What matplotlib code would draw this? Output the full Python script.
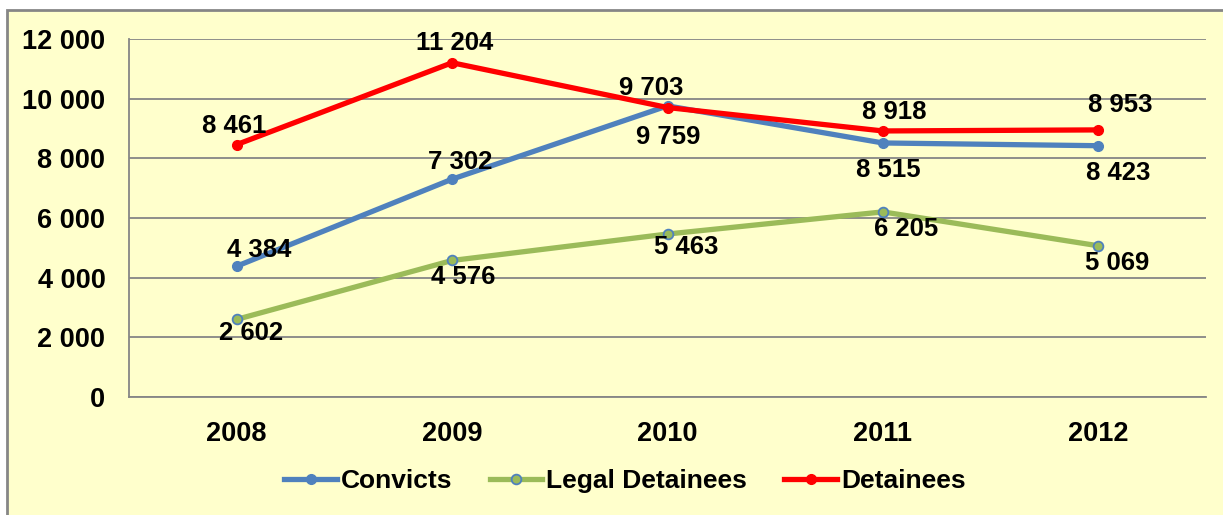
import numpy as np
import matplotlib
matplotlib.use('Agg')
import matplotlib.pyplot as plt
from matplotlib.patches import Rectangle
from matplotlib.ticker import FuncFormatter

years = ['2008', '2009', '2010', '2011', '2012']
convicts = [4384, 7302, 9759, 8515, 8423]
legal = [2602, 4576, 5463, 6205, 5069]
detainees = [8461, 11204, 9703, 8918, 8953]

# label offsets in pixels (dx, dy) relative to each point
off_conv = [(22, 16), (8, 17), (1, -31), (5, -27), (20, -27)]
off_legal = [(14, -14), (11, -17), (19, -13), (23, -17), (19, -17)]
off_det = [(-3, 19), (3, 20), (-16, 20), (11, 19), (22, 25)]

plt.rcParams['font.family'] = ['Liberation Sans', 'DejaVu Sans']

W, H = 1223, 515
fig = plt.figure(figsize=(W / 100, H / 100), dpi=100, facecolor='white')
bg = Rectangle((7 / W, -0.01), 1.0, (H - 10) / H + 0.01,
               transform=fig.transFigure, facecolor='#FFFFCC',
               edgecolor='#868686', linewidth=2, zorder=-10)
fig.patches.append(bg)

ax = fig.add_axes([129 / W, (H - 397) / H, 1077 / W, 358 / H])
ax.set_facecolor('none')
x = np.arange(len(years))

fmt = lambda v: f'{int(v):,}'.replace(',', ' ')

ax.plot(x, convicts, color='#4F81BD', lw=3.8, marker='o', ms=7,
        mfc='#4F81BD', mec='#4F81BD', label='Convicts', zorder=3)
ax.plot(x, legal, color='#9BBB59', lw=3.8, marker='o', ms=7,
        mfc='#9BBB59', mec='#4F81BD', mew=1.3, label='Legal Detainees', zorder=3)
ax.plot(x, detainees, color='#FF0000', lw=3.8, marker='o', ms=7,
        mfc='#FF0000', mec='#FF0000', label='Detainees', zorder=4)

for series, offs in [(convicts, off_conv), (legal, off_legal), (detainees, off_det)]:
    for xi, v, (dx, dy) in zip(x, series, offs):
        ax.annotate(fmt(v), (xi, v), xytext=(dx, dy), textcoords='offset pixels',
                    ha='center', va='center', fontsize=18.5, fontweight='bold', zorder=5)

ax.set_xlim(-0.5, len(years) - 0.5)
ax.set_ylim(0, 12000)
ax.set_yticks(np.arange(0, 12001, 2000))
ax.yaxis.set_major_formatter(FuncFormatter(lambda v, p: fmt(v)))
ax.set_xticks(x)
ax.set_xticklabels(years)
ax.grid(axis='y', color='#868686', lw=1.3)
ax.set_axisbelow(True)
for s in ['top', 'right']:
    ax.spines[s].set_visible(False)
for s in ['left', 'bottom']:
    ax.spines[s].set_color('#868686')
    ax.spines[s].set_linewidth(1.3)
ax.tick_params(length=0, labelsize=19.5)
ax.tick_params(axis='y', pad=17)
ax.tick_params(axis='x', pad=17)
for lab in ax.get_xticklabels() + ax.get_yticklabels():
    lab.set_fontweight('bold')

leg = fig.legend(loc='center', bbox_to_anchor=(625 / W, 1 - 481 / H), ncol=3,
                 frameon=False, handlelength=2.0, columnspacing=1.4, handletextpad=0.15,
                 prop={'weight': 'bold', 'size': 19})

fig.savefig('out.png', dpi=100, facecolor='white')
